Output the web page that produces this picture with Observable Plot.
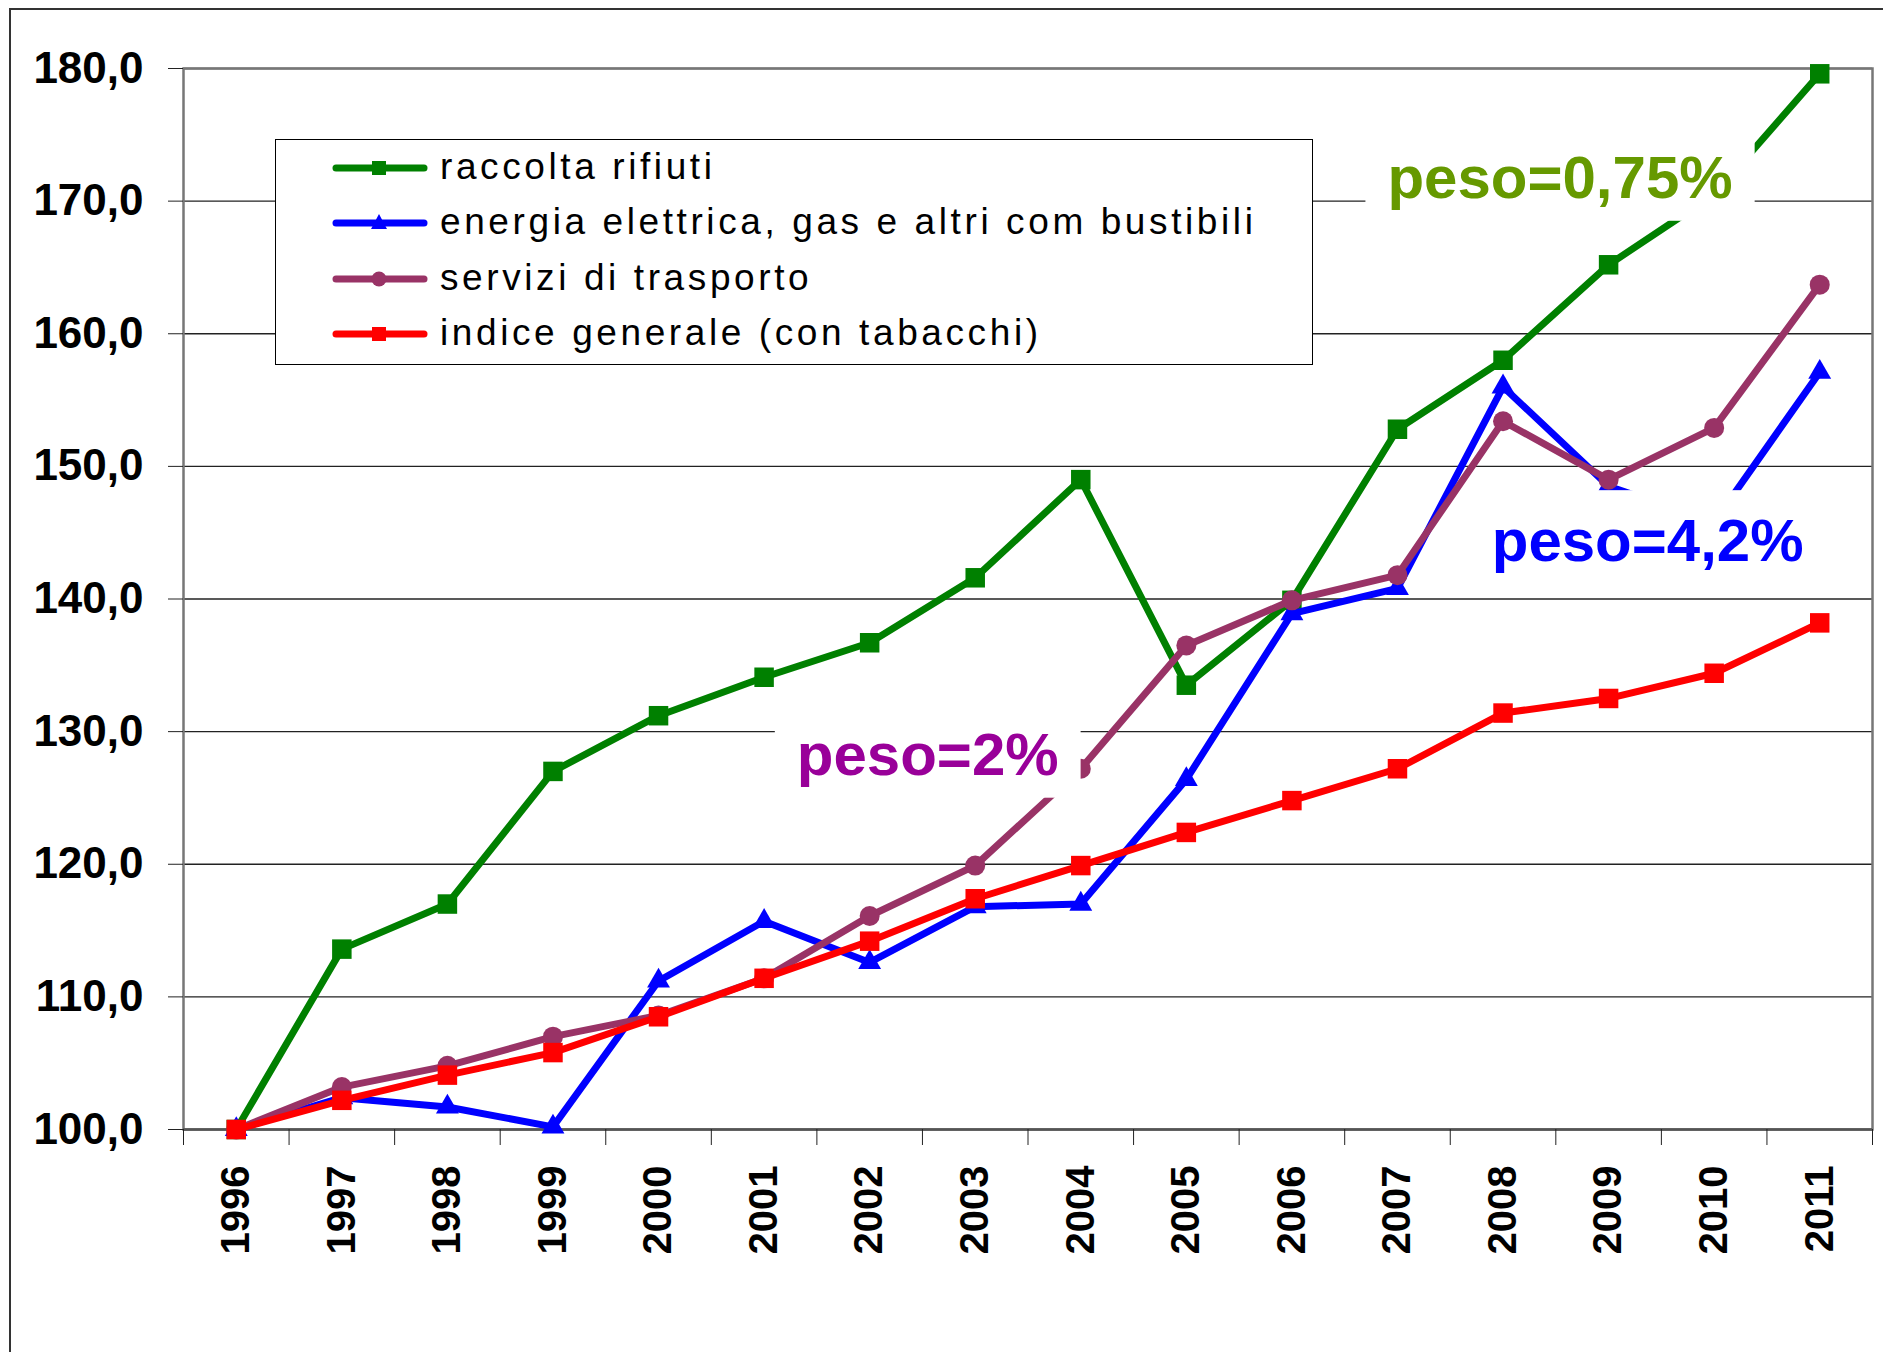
<!DOCTYPE html>
<html><head><meta charset="utf-8">
<script src="https://cdn.jsdelivr.net/npm/d3@7"></script>
<script src="https://cdn.jsdelivr.net/npm/@observablehq/plot@0.6"></script>
<style>
html,body{margin:0;padding:0;background:#fff;overflow:hidden;}
#wrap{position:relative;width:1883px;height:1352px;}
#outer{position:absolute;left:9px;top:8px;width:1950px;height:1450px;border-top:2px solid #333;border-left:2px solid #333;pointer-events:none;}
#legend{position:absolute;left:275px;top:139px;width:1036px;height:224px;border:1.5px solid #000;background:#fff;font-family:"Liberation Sans",Arial,sans-serif;}
.row{position:absolute;left:0;height:56px;width:1030px;}
.row svg{position:absolute;left:56px;top:13px;}
.row span{position:absolute;left:164px;top:5px;font-size:37px;letter-spacing:3.6px;color:#000;white-space:pre;line-height:44px;}
</style></head>
<body><div id="wrap"><div id="chart"></div><div id="legend"></div><div id="outer"></div></div>
<script>
// ---- data ----
const years = [1996,1997,1998,1999,2000,2001,2002,2003,2004,2005,2006,2007,2008,2009,2010,2011];
const raccoltaRifiuti = [100, 113.6, 117.0, 127.0, 131.2, 134.1, 136.7, 141.6, 149.0, 133.5, 139.9, 152.8, 158.0, 165.2, 170.5, 179.6];
const energiaGas      = [100, 102.4, 101.7, 100.2, 111.2, 115.7, 112.6, 116.8, 117.0, 126.4, 138.9, 140.8, 156.0, 148.5, 145.8, 157.1];
const serviziTrasporto= [100, 103.2, 104.8, 107.0, 108.6, 111.4, 116.1, 119.9, 127.2, 136.5, 139.9, 141.8, 153.4, 149.0, 152.9, 163.7];
const indiceGenerale  = [100, 102.2, 104.1, 105.8, 108.5, 111.4, 114.2, 117.4, 119.9, 122.4, 124.8, 127.2, 131.4, 132.5, 134.4, 138.2];
const seriesNames = ["raccolta rifiuti", "energia elettrica, gas e altri com bustibili", "servizi di trasporto", "indice generale (con tabacchi)"];
const seriesColors = ["#008000", "#0000FF", "#993366", "#FF0000"];
const seriesSymbols = ["square", "triangle", "circle", "square"];
const yTicks = [100, 110, 120, 130, 140, 150, 160, 170, 180];
const annoLabels = ["peso=0,75%", "peso=4,2%", "peso=2%"];
const annoX = [2008.54, 2009.37, 2002.55];
const annoY = [171.7, 144.3, 128.2];
const annoColors = ["#669900", "#0000FF", "#990099"];

// ---- build ----
const seriesValues = [raccoltaRifiuti, energiaGas, serviziTrasporto, indiceGenerale];
const symbolR = {square: 11, triangle: 8.5, circle: 10};
const boundaries = years.map(y => y - 0.5).concat([years[years.length - 1] + 0.5]);
const annotations = annoLabels.map((t, i) => ({label: t, x: annoX[i], y: annoY[i], color: annoColors[i]}));
const fontFamily = '"Liberation Sans", Arial, Helvetica, sans-serif';

const seriesMarks = seriesValues.flatMap((vals, s) => {
  const data = years.map((y, i) => ({year: y, value: vals[i]}));
  return [
    Plot.line(data, {x: "year", y: "value", stroke: seriesColors[s], strokeWidth: 7, strokeLinejoin: "miter"}),
    Plot.dot(data, {x: "year", y: "value", symbol: seriesSymbols[s], r: symbolR[seriesSymbols[s]], fill: seriesColors[s]})
  ];
});

const chart = Plot.plot({
  width: 1883,
  height: 1352,
  marginLeft: 183,
  marginTop: 68,
  marginRight: 11,
  marginBottom: 223,
  style: {fontFamily, background: "white", color: "#000"},
  x: {type: "linear", domain: [boundaries[0], boundaries[boundaries.length - 1]], label: null},
  y: {domain: [100, 180], label: null},
  marks: [
    Plot.gridY(yTicks, {stroke: "#222", strokeOpacity: 1, strokeWidth: 1.3}),
    Plot.frame({stroke: "#777", strokeWidth: 2.5}),
    Plot.ruleY([100], {stroke: "#555", strokeWidth: 2.5}),
    Plot.axisY(yTicks, {tickSize: 15, tickPadding: 25, tickFormat: d => d.toFixed(1).replace(".", ","), fontSize: 44, fontWeight: "bold", stroke: "#222"}),
    Plot.axisX(boundaries, {tickSize: 16, tickFormat: () => "", stroke: "#222"}),
    Plot.axisX(years, {tickSize: 0, tickPadding: 36, tickRotate: -90, tickFormat: d => String(d), fontSize: 40, fontWeight: "bold"}),
    ...seriesMarks,
    Plot.text(annotations, {x: "x", y: "y", text: "label", fill: "color", fontSize: 60, fontWeight: "bold", ariaDescription: "annot"})
  ]
});
document.getElementById("chart").appendChild(chart);

// white boxes behind annotation labels
const svg = chart.tagName.toLowerCase() === "svg" ? chart : chart.querySelector("svg");
const annTexts = Array.from(svg.querySelectorAll("text")).filter(t => annoLabels.includes(t.textContent));
if (annTexts.length) {
  const annG = annTexts[0].parentNode;
  const boxG = document.createElementNS("http://www.w3.org/2000/svg", "g");
  annG.parentNode.insertBefore(boxG, annG);
  const gTr = annG.getAttribute("transform");
  if (gTr) boxG.setAttribute("transform", gTr);
  annTexts.forEach(t => {
    const b = t.getBBox();
    const r = document.createElementNS("http://www.w3.org/2000/svg", "rect");
    r.setAttribute("x", b.x - 22);
    r.setAttribute("y", b.y - 17);
    r.setAttribute("width", b.width + 44);
    r.setAttribute("height", b.height + 27);
    r.setAttribute("fill", "white");
    const tr = t.getAttribute("transform");
    if (tr) r.setAttribute("transform", tr);
    boxG.appendChild(r);
  });
}

// legend
const legend = document.getElementById("legend");
seriesNames.forEach((name, i) => {
  const row = document.createElement("div");
  row.className = "row";
  row.style.top = (i * 55.3) + "px";
  const sym = seriesSymbols[i];
  let marker = "";
  if (sym === "square") marker = `<rect x="40" y="8" width="14" height="14" fill="${seriesColors[i]}"/>`;
  else if (sym === "triangle") marker = `<path d="M47,6 L55,21 L39,21 Z" fill="${seriesColors[i]}"/>`;
  else marker = `<circle cx="47" cy="15" r="7.5" fill="${seriesColors[i]}"/>`;
  row.innerHTML = `<svg width="96" height="30"><line x1="4" y1="15" x2="92" y2="15" stroke="${seriesColors[i]}" stroke-width="7" stroke-linecap="round"/>${marker}</svg><span>${name}</span>`;
  legend.appendChild(row);
});
</script>
</body></html>
